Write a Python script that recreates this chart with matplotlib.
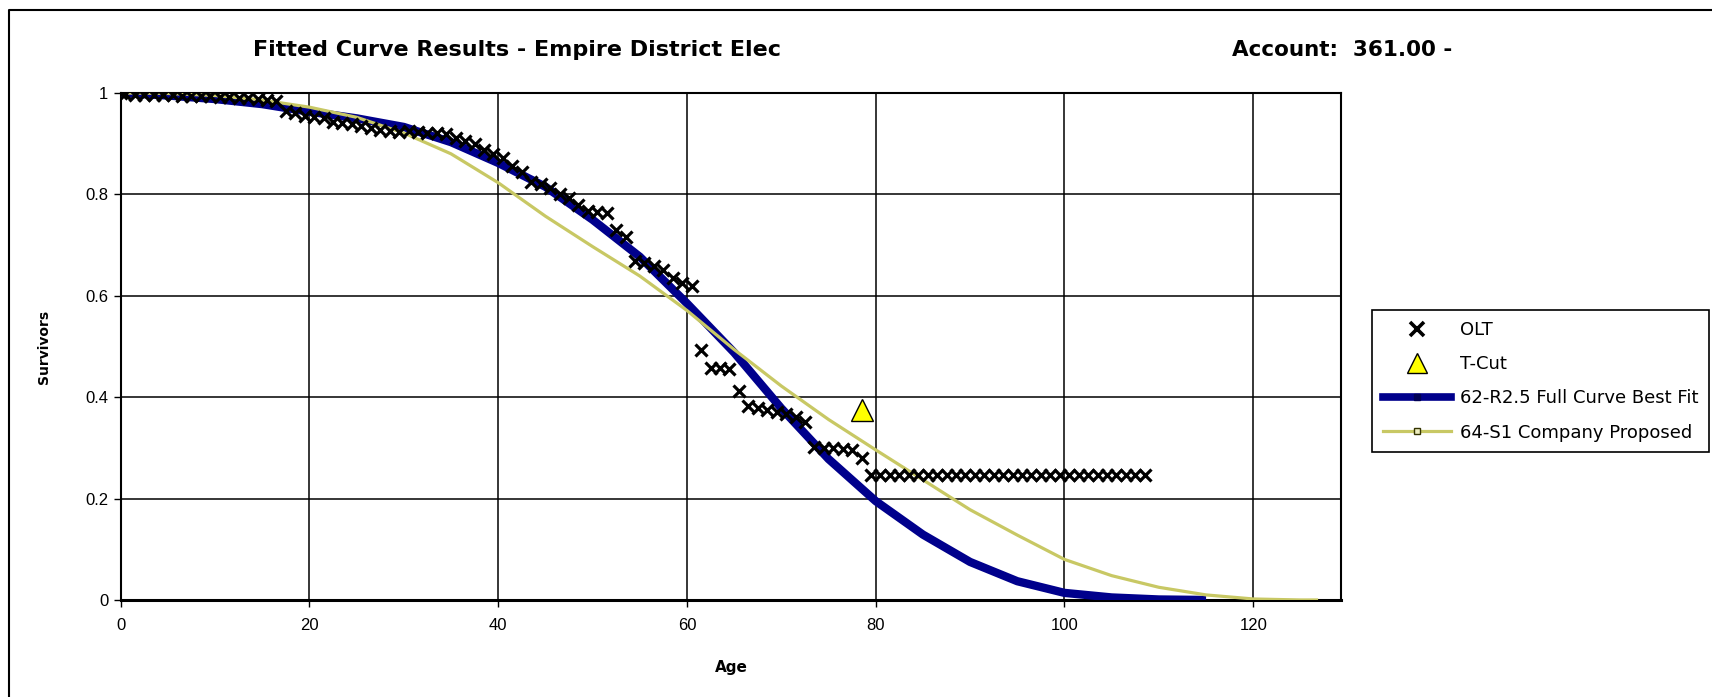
import matplotlib.pyplot as plt
from matplotlib.lines import Line2D

plt.rcParams['font.family'] = ['Liberation Sans', 'DejaVu Sans']

# observed life table points
olt_age = [0, 0.5, 1.5, 2.5, 3.5, 4.5, 5.5, 6.5, 7.5, 8.5, 9.5,
           10.5, 11.5, 12.5, 13.5, 14.5, 15.5, 16.5, 17.5, 18.5, 19.5,
           20.5, 21.5, 22.5, 23.5, 24.5, 25.5, 26.5, 27.5, 28.5, 29.5,
           30.5, 31.5, 32.5, 33.5, 34.5, 35.5, 36.5, 37.5, 38.5, 39.5,
           40.5, 41.5, 42.5, 43.5, 44.5, 45.5, 46.5, 47.5, 48.5, 49.5,
           50.5, 51.5, 52.5, 53.5, 54.5, 55.5, 56.5, 57.5, 58.5, 59.5,
           60.5, 61.5, 62.5, 63.5, 64.5, 65.5, 66.5, 67.5, 68.5, 69.5,
           70.5, 71.5, 72.5, 73.5, 74.5, 75.5, 76.5, 77.5, 78.5, 79.5,
           80.5, 81.5, 82.5, 83.5, 84.5, 85.5, 86.5, 87.5, 88.5, 89.5,
           90.5, 91.5, 92.5, 93.5, 94.5, 95.5, 96.5, 97.5, 98.5, 99.5,
           100.5, 101.5, 102.5, 103.5, 104.5, 105.5, 106.5, 107.5, 108.5]
olt_surv = [1.000, 0.998, 0.997, 0.997, 0.997, 0.996, 0.996, 0.995, 0.995, 0.994, 0.994,
            0.993, 0.992, 0.991, 0.990, 0.988, 0.986, 0.984, 0.965, 0.960, 0.955,
            0.952, 0.950, 0.943, 0.940, 0.938, 0.935, 0.930, 0.926, 0.925, 0.924,
            0.925, 0.923, 0.922, 0.921, 0.920, 0.912, 0.906, 0.900, 0.888, 0.880,
            0.872, 0.855, 0.845, 0.825, 0.820, 0.812, 0.800, 0.792, 0.780, 0.768,
            0.765, 0.764, 0.730, 0.715, 0.668, 0.665, 0.658, 0.650, 0.636, 0.625,
            0.620, 0.494, 0.458, 0.457, 0.456, 0.413, 0.382, 0.378, 0.374, 0.370,
            0.366, 0.360, 0.352, 0.302, 0.300, 0.299, 0.298, 0.296, 0.280, 0.246,
            0.246, 0.246, 0.246, 0.246, 0.246, 0.246, 0.246, 0.246, 0.246, 0.246,
            0.246, 0.246, 0.246, 0.246, 0.246, 0.246, 0.246, 0.246, 0.246, 0.246,
            0.246, 0.246, 0.246, 0.246, 0.246, 0.246, 0.246, 0.246, 0.246]

tcut_age = [78.5]
tcut_surv = [0.375]

# 62-R2.5 full curve best fit
r25_age = [0, 5, 10, 15, 20, 25, 30, 35, 40, 45, 50, 55, 60,
           65, 70, 75, 80, 85, 90, 95, 100, 105, 110, 115]
r25_surv = [1.0, 0.995, 0.988, 0.978, 0.963, 0.95, 0.933, 0.903, 0.862, 0.815, 0.75, 0.677, 0.585,
            0.488, 0.378, 0.278, 0.195, 0.129, 0.075, 0.037, 0.014, 0.005, 0.001, 0.0]

# 64-S1 company proposed
s1_age = [0, 5, 10, 15, 20, 25, 30, 35, 40, 45, 50, 55, 60, 65,
          70, 75, 80, 85, 90, 95, 100, 105, 110, 115, 120, 125, 126.7]
s1_surv = [1.0, 0.999, 0.995, 0.986, 0.972, 0.952, 0.921, 0.88, 0.823, 0.757, 0.697, 0.639, 0.571, 0.494,
           0.422, 0.356, 0.296, 0.237, 0.178, 0.128, 0.08, 0.048, 0.025, 0.01, 0.002, 0.0, 0.0]

x_ticks = [0, 20, 40, 60, 80, 100, 120]
y_ticks = [0, 0.2, 0.4, 0.6, 0.8, 1]
y_tick_labels = ['0', '0.2', '0.4', '0.6', '0.8', '1']

navy = '#00008c'
olive = '#c8c864'

fig = plt.figure(figsize=(17.12, 6.97), dpi=100)
ax = fig.add_axes([0.0705, 0.1392, 0.7128, 0.7274])

ax.plot(r25_age, r25_surv, color=navy, lw=6, solid_capstyle='butt', zorder=3)
ax.plot(s1_age, s1_surv, color=olive, lw=2.3, zorder=4)
ax.plot(olt_age, olt_surv, ls='', marker='x', color='black', ms=9, mew=2.3, zorder=5)
ax.plot(tcut_age, tcut_surv, ls='', marker='^', mfc='#ffff00', mec='black', mew=1, ms=16, zorder=6)

ax.set_xlim(0, 129.3)
ax.set_ylim(0, 1)
ax.set_xticks(x_ticks)
ax.set_yticks(y_ticks)
ax.set_yticklabels(y_tick_labels)
ax.grid(True, color='black', lw=1.1)
ax.set_axisbelow(True)
for s in ax.spines.values():
    s.set_linewidth(1.5)
ax.spines['bottom'].set_linewidth(2.2)
ax.tick_params(axis='x', direction='out', length=5, width=1, labelsize=12, pad=8)
ax.tick_params(axis='y', direction='out', length=5, width=1, labelsize=12, pad=4)

fig.text(0.302, 0.928, 'Fitted Curve Results - Empire District Elec', family='DejaVu Sans',
         weight='bold', fontsize=16, ha='center', va='center')
fig.text(0.784, 0.928, 'Account:  361.00 -', family='DejaVu Sans',
         weight='bold', fontsize=15.5, ha='center', va='center')
fig.text(0.0257, 0.502, 'Survivors', family='DejaVu Sans', weight='bold', fontsize=10,
         rotation=90, ha='center', va='center')
fig.text(0.427, 0.042, 'Age', family='DejaVu Sans', weight='bold', fontsize=11,
         ha='center', va='center')

# outer frame (only top and left visible)
fig.add_artist(Line2D([0.0053, 0.0053, 1.0], [0.0, 0.9857, 0.9857],
                      transform=fig.transFigure, color='black', lw=1.5))

handles = [
    Line2D([], [], ls='', marker='x', color='black', ms=10, mew=2.6),
    Line2D([], [], ls='', marker='^', mfc='#ffff00', mec='black', ms=15),
    Line2D([], [], color=navy, lw=5.5, marker='s', ms=5, mfc='#000055', mec='#000055'),
    Line2D([], [], color=olive, lw=2.3, marker='s', ms=5, mfc='#eeeec0', mec='#333300', mew=1),
]
labels = ['OLT', 'T-Cut', '62-R2.5 Full Curve Best Fit', '64-S1 Company Proposed']
leg = fig.legend(handles, labels, loc='upper left', bbox_to_anchor=(0.8014, 0.5552),
                 borderaxespad=0, prop={'family': 'DejaVu Sans', 'size': 13}, numpoints=1,
                 handlelength=3.8, handletextpad=0.45, labelspacing=0.9, borderpad=0.6,
                 fancybox=False, framealpha=1, edgecolor='black')
leg.get_frame().set_linewidth(1.2)

fig.savefig('out.png', dpi=100)
